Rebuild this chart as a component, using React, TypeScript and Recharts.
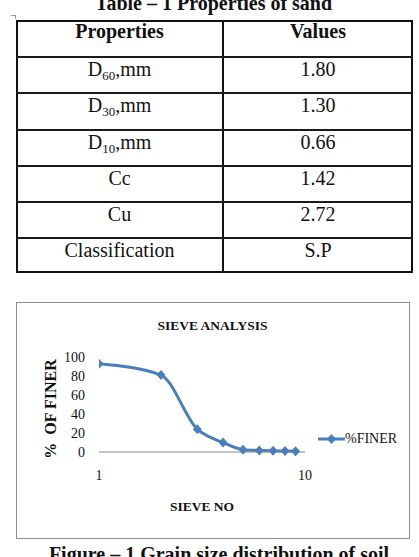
import { LineChart, Line, XAxis, YAxis, Legend } from "recharts";

// sieve analysis data
const sieveNo = [1, 2, 3, 4, 5, 6, 7, 8, 9];
const percentFiner = [92.8, 81, 24, 10, 2.4, 1.6, 1.2, 1.0, 0.8];
const xTicks = [1, 10];
const yTicks = [0, 20, 40, 60, 80, 100];

// table 1
const tableHeader = ["Properties", "Values"];
const propertyNames = ["D", "D", "D", "Cc", "Cu", "Classification"];
const propertySubs = ["60", "30", "10", "", "", ""];
const propertyUnits = [",mm", ",mm", ",mm", "", "", ""];
const propertyValues = ["1.80", "1.30", "0.66", "1.42", "2.72", "S.P"];

const BLUE = "#4a7ebb";
const SERIF = "'Liberation Serif', 'Times New Roman', serif";

const chartData = sieveNo.map((s, i) => ({ sieve: s, finer: percentFiner[i] }));

const Diamond = (props: any) => {
  const { cx, cy } = props;
  if (cx == null || cy == null) return null;
  return (
    <path
      d={`M${cx},${cy - 5}L${cx + 4.5},${cy}L${cx},${cy + 5}L${cx - 4.5},${cy}Z`}
      fill={BLUE}
    />
  );
};

const LegendContent = () => (
  <div style={{ display: "flex", alignItems: "center", fontFamily: SERIF, fontSize: 14, lineHeight: "14px", color: "#111" }}>
    <svg width={27} height={12}>
      <line x1={0} y1={6} x2={27} y2={6} stroke={BLUE} strokeWidth={3} />
      <path d="M13.5,1L18,6L13.5,11L9,6Z" fill={BLUE} />
    </svg>
    <span>%FINER</span>
  </div>
);

// y positions of the table's horizontal rules
const ROW_H = 36.2;
const TABLE_TOP = 20;

export default function App() {
  const rows = [0, 1, 2, 3, 4, 5, 6];
  return (
    <div
      style={{
        position: "absolute",
        left: 0,
        top: 0,
        width: 419,
        height: 557,
        overflow: "hidden",
        background: "#fff",
        fontFamily: SERIF,
        color: "#111",
      }}
    >
      <div
        style={{
          position: "absolute",
          top: -7,
          left: 0,
          width: 427,
          textAlign: "center",
          fontSize: 20,
          lineHeight: "20px",
          fontWeight: "bold",
        }}
      >
        Table – 1 Properties of sand
      </div>

      {/* word table handle */}
      <div style={{ position: "absolute", left: 11, top: 15, width: 4, height: 3, borderTop: "1px solid #999", borderRight: "1px solid #999" }} />

      {/* table frame */}
      <div
        style={{
          position: "absolute",
          left: 16,
          top: TABLE_TOP,
          width: 397,
          height: 253,
          border: "2px solid #111",
          boxSizing: "border-box",
        }}
      />
      <div style={{ position: "absolute", left: 222, top: TABLE_TOP, width: 2, height: 253, background: "#111" }} />
      {rows.slice(1).map((i) => (
        <div
          key={i}
          style={{
            position: "absolute",
            left: 16,
            top: Math.round(TABLE_TOP + i * ROW_H),
            width: 397,
            height: 2,
            background: "#1a1a1a",
          }}
        />
      ))}

      {/* header */}
      {tableHeader.map((h, c) => (
        <div
          key={h}
          style={{
            position: "absolute",
            left: c === 0 ? 16 : 223,
            width: c === 0 ? 207 : 190,
            top: TABLE_TOP + 1,
            textAlign: "center",
            fontSize: 20,
            lineHeight: "20px",
            fontWeight: "bold",
          }}
        >
          {h}
        </div>
      ))}

      {propertyNames.map((name, i) => {
        const top = Math.round(TABLE_TOP + (i + 1) * ROW_H) + 3;
        return (
          <div key={i}>
            <div
              style={{
                position: "absolute",
                left: 16,
                width: 207,
                top,
                textAlign: "center",
                fontSize: 20,
                lineHeight: "20px",
              }}
            >
              {name}
              {propertySubs[i] && (
                <span style={{ fontSize: 13, position: "relative", top: 4 }}>{propertySubs[i]}</span>
              )}
              {propertyUnits[i]}
            </div>
            <div
              style={{
                position: "absolute",
                left: 223,
                width: 190,
                top,
                textAlign: "center",
                fontSize: 20,
                lineHeight: "20px",
              }}
            >
              {propertyValues[i]}
            </div>
          </div>
        );
      })}

      {/* chart box */}
      <div
        style={{
          position: "absolute",
          left: 16,
          top: 302,
          width: 394,
          height: 237,
          border: "1px solid #8c8c8c",
          boxSizing: "border-box",
        }}
      >
        <LineChart
          width={392}
          height={235}
          data={chartData}
          margin={{ top: 54, right: 104, bottom: 56, left: 42 }}
        >
          <text x={195.5} y={27} textAnchor="middle" fontFamily={SERIF} fontWeight="bold" fontSize={13.5} fill="#111">
            SIEVE ANALYSIS
          </text>
          <text
            x={33}
            y={106}
            transform="rotate(-90 33 106)"
            textAnchor="middle"
            dominantBaseline="central"
            fontFamily={SERIF}
            fontWeight="bold"
            fontSize={16}
            fill="#111"
            style={{ whiteSpace: "pre" }}
          >
            {"%  OF FINER"}
          </text>
          <text x={185} y={208} textAnchor="middle" fontFamily={SERIF} fontWeight="bold" fontSize={13.5} fill="#111">
            SIEVE NO
          </text>
          <XAxis
            dataKey="sieve"
            type="number"
            scale="log"
            domain={[1, 10]}
            ticks={xTicks}
            interval={0}
            tickLine={false}
            tickMargin={12}
            axisLine={{ stroke: "#868686", strokeWidth: 1 }}
            tick={{ fontFamily: SERIF, fontSize: 14, fill: "#111" }}
            allowDataOverflow
          />
          <YAxis
            type="number"
            domain={[0, 100]}
            ticks={yTicks}
            interval={0}
            width={40}
            axisLine={false}
            tickLine={false}
            tickMargin={8}
            tick={{ fontFamily: SERIF, fontSize: 14, fill: "#111" }}
          />
          <Legend
            layout="horizontal"
            align="center"
            verticalAlign="middle"
            content={<LegendContent />}
            wrapperStyle={{ left: 301, top: 129, width: "auto", height: "auto" }}
          />
          <Line
            dataKey="finer"
            type="monotone"
            stroke={BLUE}
            strokeWidth={3}
            dot={<Diamond />}
            activeDot={false}
            isAnimationActive={false}
          />
        </LineChart>
      </div>

      <div
        style={{
          position: "absolute",
          top: 544,
          left: 0,
          width: 438,
          textAlign: "center",
          fontSize: 20,
          lineHeight: "20px",
          fontWeight: "bold",
        }}
      >
        Figure – 1 Grain size distribution of soil
      </div>
    </div>
  );
}
